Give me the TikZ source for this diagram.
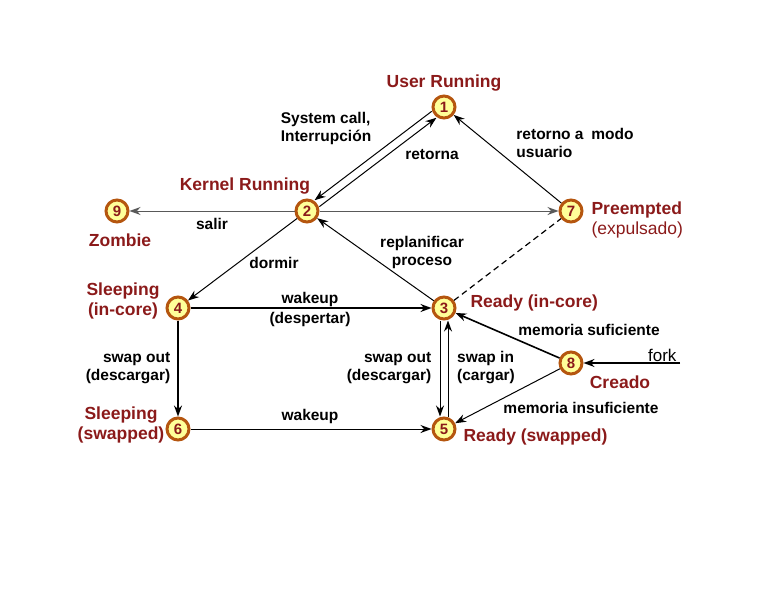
\documentclass[tikz,border=0pt]{standalone}
\usepackage{fontspec}
\setmainfont{Liberation Sans}
\usetikzlibrary{arrows.meta}
\definecolor{nfill}{HTML}{FFFF99}
\definecolor{nbord}{HTML}{B5560F}
\definecolor{dred}{HTML}{8B1A1A}
\begin{document}
\begin{tikzpicture}[x=1pt,y=-1pt,
 st/.style={circle,draw=nbord,line width=3pt,fill=nfill,minimum size=22pt,inner sep=0pt,font=\bfseries\fontsize{15}{15}\selectfont,text=dred},
 nm/.style={font=\bfseries\fontsize{17.5}{20}\selectfont,text=dred,align=center},
 lb/.style={font=\bfseries\fontsize{15.5}{18}\selectfont,align=left},
 ar/.style={-{Stealth[length=11pt,width=8pt]},line width=1pt},
 thk/.style={-{Stealth[length=11pt,width=8pt]},line width=1.6pt}]
\useasboundingbox (0,0) rectangle (768,594);
\node[st] (n1) at (444,107) {1};
\node[st] (n2) at (307,211) {2};
\node[st] (n3) at (444,308) {3};
\node[st] (n4) at (178,308) {4};
\node[st] (n5) at (444,429) {5};
\node[st] (n6) at (178,429) {6};
\node[st] (n7) at (571,211) {7};
\node[st] (n8) at (571,363) {8};
\node[st] (n9) at (117,211) {9};
\coordinate (fork) at (680,363);
% state names
\node[nm] at (444,83) {User Running};
\node[nm] at (245,186) {Kernel Running};
\node[nm] at (120,240) {Zombie};
\node[nm,align=left,anchor=west] at (588,220) {Preempted\\{\mdseries (expulsado)}};
\node[nm,anchor=west] at (467,303) {Ready (in-core)};
\node[nm] at (123,301) {Sleeping\\(in-core)};
\node[nm] at (121,425) {Sleeping\\(swapped)};
\node[nm,anchor=west] at (460,437) {Ready (swapped)};
\node[nm] at (620,382) {Creado};
% edges
\draw[ar,transform canvas={shift={(2.4,3.2)}}] (n2) -- (n1);
\draw[ar,transform canvas={shift={(-2.4,-3.2)}}] (n1) -- (n2);
\draw[ar,gray!70!black] (n2) -- (n9);
\draw[ar,gray!70!black] (n2) -- (n7);
\draw[ar] (n7) -- (n1);
\draw[ar] (n3) -- (n2);
\draw[dash pattern=on 6pt off 4pt,line width=1.2pt] (n3) -- (n7);
\draw[ar] (n2) -- (n4);
\draw[thk] (n4) -- (n3);
\draw[thk] (n4) -- (n6);
\draw[ar] (n6) -- (n5);
\draw[ar] ([xshift=-4pt]n3.south) -- ([xshift=-4pt]n5.north);
\draw[ar] ([xshift=4pt]n5.north) -- ([xshift=4pt]n3.south);
\draw[thk] (n8) -- (n3);
\draw[ar] (n8) -- (n5);
\draw[thk] (fork) -- (n8);
% labels
\node[lb] at (326,128) {System call,\\Interrupción};
\node[lb] at (432,155) {retorna};
\node[lb] at (575,143) {retorno a\enspace modo\\usuario};
\node[lb] at (212,224) {salir};
\node[lb,align=center] at (422,252) {replanificar\\proceso};
\node[lb] at (274,263) {dormir};
\node[lb,align=center] at (310,309) {wakeup\\[2pt]{\mdseries\textbf{(despertar)}}};
\node[lb,align=right] at (128,368) {swap out\\(descargar)};
\node[lb,align=right] at (389,368) {swap out\\(descargar)};
\node[lb] at (486,368) {swap in\\(cargar)};
\node[lb] at (589,330) {memoria suficiente};
\node[lb] at (581,408) {memoria insuficiente};
\node[lb] at (310,416) {wakeup};
\node[font=\fontsize{17}{17}\selectfont,anchor=south east] at (680,365) {fork};
\end{tikzpicture}
\end{document}
